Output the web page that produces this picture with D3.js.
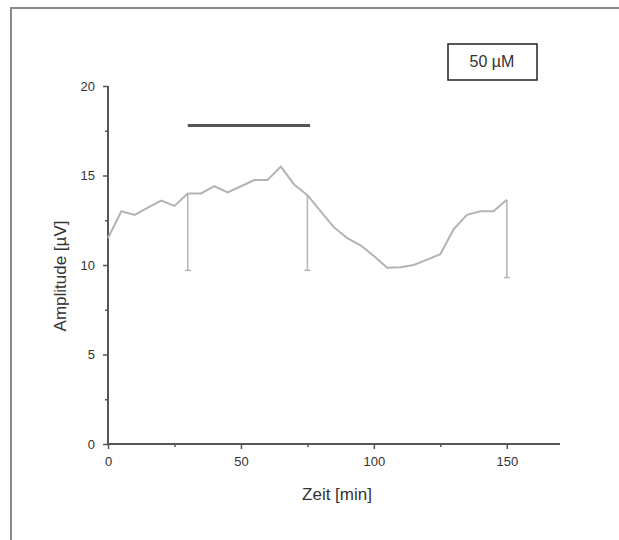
<!DOCTYPE html>
<meta charset="utf-8">
<style>
  body { margin: 0; background: #fff; }
  text { font-family: "Liberation Sans", Arial, sans-serif; }
</style>
<body>
<svg width="619" height="540"></svg>
<script src="https://d3js.org/d3.v7.min.js"></script>
<script>
// time in minutes and mean amplitude in µV
var times = [0, 5, 10, 15, 20, 25, 30, 35, 40, 45, 50, 55, 60, 65, 70, 75,
             80, 85, 90, 95, 100, 105, 110, 115, 120, 125, 130, 135, 140, 145, 150];
var amplitude = [11.5, 13.0, 12.8, 13.2, 13.6, 13.3, 14.0, 14.0, 14.4, 14.05, 14.4, 14.75, 14.75, 15.5, 14.5, 13.9,
                 13.0, 12.1, 11.5, 11.1, 10.5, 9.85, 9.87, 10.0, 10.3, 10.6, 12.0, 12.8, 13.0, 13.0, 13.65];
// lower error bars only shown at these times
var errTimes = [30, 75, 150];
var errLow = [9.7, 9.7, 9.3];
// application period bar
var barStart = 30, barEnd = 76, barLevel = 17.8;
var xTicks = [0, 50, 100, 150];
var yTicks = [0, 5, 10, 15, 20];
var legendText = "50 µM";

var svg = d3.select("svg");

// outer frame (only top and left edges visible)
svg.append("path")
    .attr("d", "M11,540 L11,8 L619,8")
    .attr("fill", "none")
    .attr("stroke", "#8a8a8a")
    .attr("stroke-width", 2);

var x = d3.scaleLinear().domain([0, 170]).range([108, 560]);
var y = d3.scaleLinear().domain([0, 20]).range([444, 86]);

var axisColor = "#555";

// x axis
var gx = svg.append("g").attr("transform", "translate(0," + y(0) + ")");
gx.append("g").call(d3.axisBottom(x).tickValues(xTicks).tickSize(5).tickPadding(8));
gx.append("g").call(d3.axisBottom(x).tickValues([25, 75, 125]).tickSize(3).tickFormat(""));

// y axis
var gy = svg.append("g").attr("transform", "translate(" + x(0) + ",0)");
gy.append("g").call(d3.axisLeft(y).tickValues(yTicks).tickSize(5).tickPadding(8));
gy.append("g").call(d3.axisLeft(y).tickValues([2.5, 7.5, 12.5, 17.5]).tickSize(3).tickFormat(""));

svg.selectAll(".domain").remove();

// axis lines
svg.append("line")
    .attr("x1", x(0)).attr("x2", x(170))
    .attr("y1", y(0)).attr("y2", y(0))
    .attr("stroke", axisColor).attr("stroke-width", 2);
svg.append("line")
    .attr("x1", x(0)).attr("x2", x(0))
    .attr("y1", y(0)).attr("y2", y(20))
    .attr("stroke", axisColor).attr("stroke-width", 2);

svg.selectAll(".tick line")
    .attr("stroke", axisColor)
    .attr("stroke-width", 1.5);
svg.selectAll(".tick text")
    .attr("fill", "#333")
    .style("font-size", "13px");

// error bars
var lineColor = "#b4b4b4";
errTimes.forEach(function(t, i) {
    var v = amplitude[times.indexOf(t)];
    svg.append("line")
        .attr("x1", x(t)).attr("x2", x(t))
        .attr("y1", y(v)).attr("y2", y(errLow[i]))
        .attr("stroke", lineColor)
        .attr("stroke-width", 1.5);
    svg.append("line")
        .attr("x1", x(t) - 3).attr("x2", x(t) + 3)
        .attr("y1", y(errLow[i])).attr("y2", y(errLow[i]))
        .attr("stroke", lineColor)
        .attr("stroke-width", 1.5);
});

// data line
var line = d3.line()
    .x(function(d, i) { return x(times[i]); })
    .y(function(d) { return y(d); });

svg.append("path")
    .datum(amplitude)
    .attr("d", line)
    .attr("fill", "none")
    .attr("stroke", lineColor)
    .attr("stroke-width", 2);

// application bar
svg.append("line")
    .attr("x1", x(barStart)).attr("x2", x(barEnd))
    .attr("y1", y(barLevel)).attr("y2", y(barLevel))
    .attr("stroke", "#555")
    .attr("stroke-width", 3);

// axis titles
svg.append("text")
    .attr("x", 337)
    .attr("y", 500)
    .attr("text-anchor", "middle")
    .attr("fill", "#333")
    .style("font-size", "17px")
    .text("Zeit [min]");

svg.append("text")
    .attr("transform", "translate(66,276) rotate(-90)")
    .attr("text-anchor", "middle")
    .attr("fill", "#333")
    .style("font-size", "17px")
    .text("Amplitude [µV]");

// legend box
svg.append("rect")
    .attr("x", 448).attr("y", 44)
    .attr("width", 89).attr("height", 36)
    .attr("fill", "#fff")
    .attr("stroke", "#222")
    .attr("stroke-width", 1.5);
svg.append("text")
    .attr("x", 492)
    .attr("y", 67)
    .attr("text-anchor", "middle")
    .attr("fill", "#333")
    .style("font-size", "16px")
    .text(legendText);
</script>
</body>
